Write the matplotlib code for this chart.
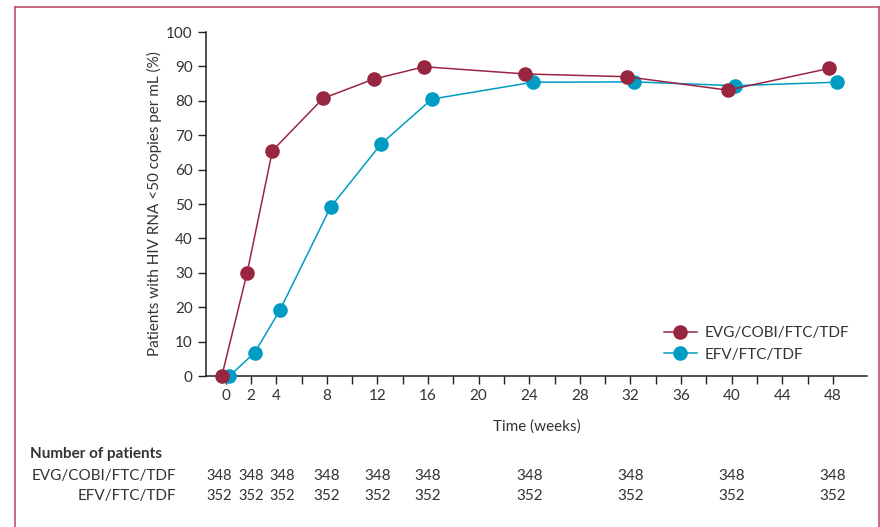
import matplotlib
matplotlib.use("Agg")
import matplotlib.pyplot as plt
from matplotlib.lines import Line2D
import matplotlib.transforms as mtransforms

plt.rcParams['font.family'] = ['Lato', 'DejaVu Sans']

weeks = [0, 2, 4, 8, 12, 16, 24, 32, 40, 48]
evg_pct = [0, 30.0, 65.5, 80.7, 86.3, 89.9, 87.8, 87.0, 83.1, 89.4]
efv_pct = [0, 6.8, 19.2, 49.1, 67.5, 80.5, 85.4, 85.5, 84.4, 85.4]
evg_n = [348, 348, 348, 348, 348, 348, 348, 348, 348, 348]
efv_n = [352, 352, 352, 352, 352, 352, 352, 352, 352, 352]
series_names = ["EVG/COBI/FTC/TDF", "EFV/FTC/TDF"]
xtick_labels = [0, 2, 4, 8, 12, 16, 20, 24, 28, 32, 36, 40, 44, 48]
yticks = list(range(0, 101, 10))

RED = '#982641'
BLUE = '#009cc4'
TXT = '#333333'
FS = 11

fig = plt.figure(figsize=(8.8, 5.27), dpi=100)
ax = fig.add_axes([206/880, 1-376/527, (867-206)/880, (376-32)/527])

off = 0.3
ax.plot([w - off for w in weeks], evg_pct, color=RED, lw=1.1, marker='o', ms=10.5,
        markeredgewidth=0, clip_on=False, zorder=4, label=series_names[0])
ax.plot([w + off for w in weeks], efv_pct, color=BLUE, lw=1.1, marker='o', ms=10.5,
        markeredgewidth=0, clip_on=False, zorder=3, label=series_names[1])

ax.set_xlim(-1.55, 50.7)
ax.set_ylim(0, 100)
ax.set_xticks(list(range(0, 49, 2)))
ax.set_xticklabels([str(t) if t in xtick_labels else '' for t in range(0, 49, 2)])
ax.set_yticks(yticks)
for s in ['top', 'right']:
    ax.spines[s].set_visible(False)
for s in ['left', 'bottom']:
    ax.spines[s].set_color('#222222')
    ax.spines[s].set_linewidth(1.1)
ax.tick_params(axis='both', direction='out', length=6, width=1.0, color='#222222',
               labelcolor=TXT, labelsize=FS)
ax.tick_params(axis='x', pad=3)
ax.set_xlabel("Time (weeks)", fontsize=FS, color=TXT, labelpad=12)
ax.set_ylabel("Patients with HIV RNA <50 copies per mL (%)", fontsize=FS, color=TXT, labelpad=3)

leg = ax.legend(loc='upper left', bbox_to_anchor=(0.683, 0.163), frameon=False,
                fontsize=FS, handlelength=2.2, handletextpad=0.5, labelspacing=0.5,
                borderaxespad=0, labelcolor=TXT)

# number at risk table
trans = mtransforms.blended_transform_factory(ax.transData, fig.transFigure)
fig.text(30/880, 1-454/527, "Number of patients", fontsize=FS, fontweight='bold',
         color=TXT, ha='left', va='center')
fig.text(176/880, 1-476/527, series_names[0], fontsize=FS, color=TXT, ha='right', va='center')
fig.text(176/880, 1-496/527, series_names[1], fontsize=FS, color=TXT, ha='right', va='center')
shift = {0: -0.5, 2: 0.0, 4: 0.5}
for w, a, b in zip(weeks, evg_n, efv_n):
    xx = w + shift.get(w, 0)
    fs = 10.5 if w <= 4 else FS
    ax.text(xx, 1-476/527, str(a), transform=trans, fontsize=fs, color=TXT, ha='center', va='center')
    ax.text(xx, 1-496/527, str(b), transform=trans, fontsize=fs, color=TXT, ha='center', va='center')

# frame
fc = '#c4506b'
fig.add_artist(Line2D([15/880, 15/880], [0, 1-6.5/527], transform=fig.transFigure, color=fc, lw=1.2))
fig.add_artist(Line2D([15/880, 879/880], [1-6.5/527, 1-6.5/527], transform=fig.transFigure, color=fc, lw=1.2))
fig.add_artist(Line2D([879/880, 879/880], [0, 1-6.5/527], transform=fig.transFigure, color=fc, lw=1.2))

fig.savefig("out.png", dpi=100)
